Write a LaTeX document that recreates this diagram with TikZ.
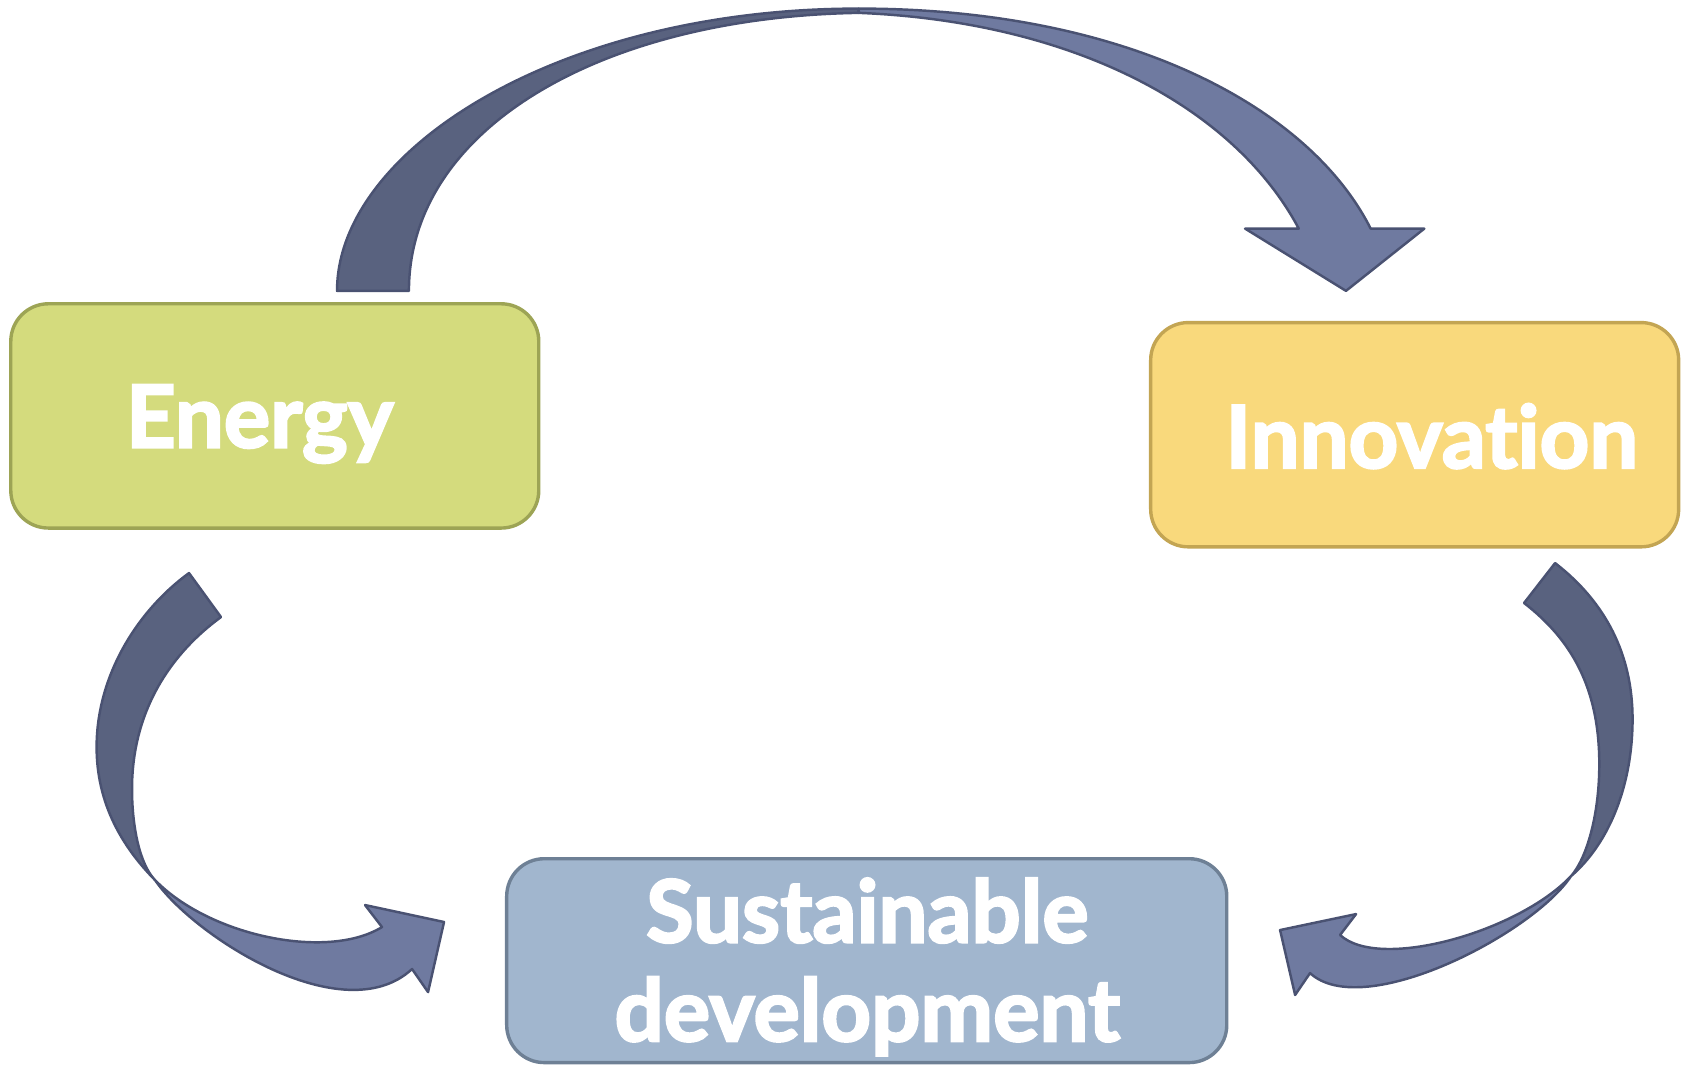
\documentclass[tikz,border=0pt]{standalone}
\usepackage{fontspec}
\setmainfont{Lato}
\usepackage{xcolor}
\usepackage{tikz}

\definecolor{energyfill}{HTML}{D4DB7D}
\definecolor{energyline}{HTML}{9DA455}
\definecolor{innofill}{HTML}{F9D97C}
\definecolor{innoline}{HTML}{C3A553}
\definecolor{susfill}{HTML}{A1B6CE}
\definecolor{susline}{HTML}{6E8095}
\definecolor{arrdark}{HTML}{59627F}
\definecolor{arrlight}{HTML}{6F7AA0}
\definecolor{arrline}{HTML}{4A5272}

% heavier lettering: fill and stroke the glyphs
\newcommand{\heavytxt}[1]{\special{pdf:literal direct 2 Tr 1.2 w 1 1 1 RG}#1\special{pdf:literal direct 0 Tr}}

\begin{document}
\begin{tikzpicture}[x=0.02cm, y=-0.02cm,
    box/.style={draw, rounded corners=0.7cm, line width=1.8pt, minimum width=9.84cm, minimum height=4.18cm, inner sep=0pt},
    lbl/.style={text=white, font=\fontsize{46}{52}\selectfont\bfseries, anchor=base, inner sep=0pt},
    arrbody/.style={draw=arrline, line width=1.3pt, line join=round}]
        \useasboundingbox (0,0) rectangle (1568,993);

        % Boxes
        \node[box, fill=energyfill, draw=energyline] (energy) at (256,387.5) {};
        \node[box, fill=innofill, draw=innoline] (inno) at (1318,405) {};
        \node[box, fill=susfill, draw=susline, minimum width=13.42cm, minimum height=3.8cm] (sus) at (807.5,895) {};

        % Labels
        \node[lbl] (energyt) at (242,417) {\heavytxt{Energy}};
        \node[lbl] (innot) at (1334,436) {\heavytxt{Innovat\kern0pt ion}};
        \node[lbl] (sust) at (808,878) {\heavytxt{Sustainable}};
        \node[lbl] (devt) at (808,970) {\heavytxt{development}};

        % Energy to Innovation
        \draw[arrbody, fill=arrdark] (314,271) .. controls (314,140) and (520,8) .. (800,8) -- (800,12)
            .. controls (560,16) and (381,120) .. (381,271) -- cycle;
        \draw[arrbody, fill=arrlight] (800,8) .. controls (1050,8) and (1220,100) .. (1277,213)
            -- (1327,213) -- (1254,271) -- (1160,213) -- (1210,213)
            .. controls (1150,100) and (1000,20) .. (800,12) -- cycle;

        % Energy to Sustainable development
        \draw[arrbody, fill=arrdark] (176.1,533.9) .. controls (127.5,569.3) and (90,630) .. (90,696)
            .. controls (90,750) and (115,790) .. (144.4,819.9)
            .. controls (130,805) and (123,770) .. (123,735)
            .. controls (123,660) and (161.3,607.3) .. (205.9,574.9) -- cycle;
        \draw[arrbody, fill=arrlight] (144.4,819.9) .. controls (180,872) and (320,962) .. (383.9,902.8)
            -- (398.8,924.3) -- (413.7,859) -- (340.1,843.2) -- (355.9,863.7)
            .. controls (305,895) and (195,872) .. (144.4,819.9) -- cycle;

        % Innovation to Sustainable development
        \draw[arrbody, fill=arrdark] (1448.8,524.6) .. controls (1496,561) and (1521,610) .. (1521,670)
            .. controls (1521,730) and (1500,785) .. (1463.7,816.2)
            .. controls (1478,800) and (1490,760) .. (1490,712)
            .. controls (1490,640) and (1463.4,595.4) .. (1419.9,561.8) -- cycle;
        \draw[arrbody, fill=arrlight] (1463.7,816.2) .. controls (1428,870) and (1270,952) .. (1220.5,906.6)
            -- (1206.6,927) -- (1192.6,866.5) -- (1263.4,851.6) -- (1248.5,871.1)
            .. controls (1285,905) and (1415,868) .. (1463.7,816.2) -- cycle;
\end{tikzpicture}
\end{document}
